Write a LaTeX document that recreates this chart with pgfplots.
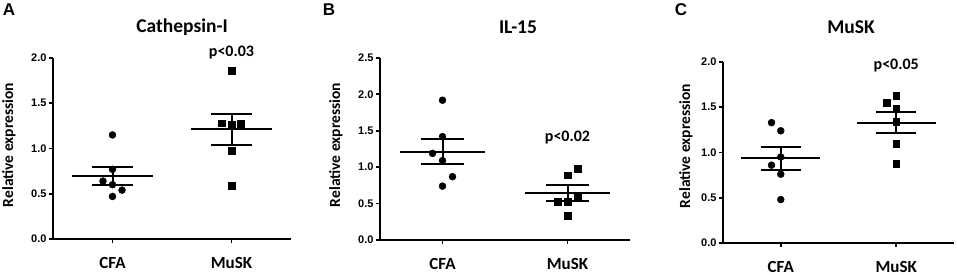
\documentclass[border=0pt]{standalone}
\usepackage{pgfplots}
\pgfplotsset{compat=1.18}
\usepackage{fontspec}
\setmainfont{Carlito}
\newfontfamily\tickfont{Liberation Sans}
\newfontfamily\letterfont{Liberation Sans}
\tikzset{pv/.style={font=\bfseries\fontsize{16}{16}\selectfont}}
\pgfplotsset{
  myax/.style={
    scale only axis,
    axis x line=bottom, axis y line=left,
    axis line style={-, line width=2pt},
    xmin=-0.5, xmax=1.5, ymin=0,
    xtick={0,1}, xticklabels={CFA,MuSK},
    tick align=outside, major tick length=4pt,
    tick style={line width=1.8pt, black},
    minor tick num=0,
    clip=false,
    /pgf/number format/assume math mode=true,
    yticklabel style={font=\tickfont\bfseries\fontsize{11}{11}\selectfont, xshift=1pt,
      /pgf/number format/.cd, fixed, fixed zerofill, precision=1, /tikz/.cd},
    xticklabel style={font=\bfseries\fontsize{17}{17}\selectfont, anchor=center, yshift=-20pt},
  },
  ln/.style={line width=2pt, black, no marks},
  circ/.style={only marks, mark=*, mark size=3.5pt, black},
  sq/.style={only marks, mark=square*, mark size=3.4pt, black},
}
\begin{document}
\begin{tikzpicture}
\useasboundingbox (0,0) rectangle (957pt,275pt);
% ---------------- A
\begin{axis}[myax, anchor=south west, at={(53pt,36pt)}, width=238pt, height=181pt,
  ymax=2.0, ytick={0,0.5,1.0,1.5,2.0}]
\addplot[circ] coordinates {(0,1.15) (0,0.77) (-0.08,0.64) (0,0.60) (0.08,0.54) (0,0.47)};
\addplot[ln] coordinates {(-0.34,0.70) (0.34,0.70)};
\addplot[ln] coordinates {(-0.175,0.80) (0.175,0.80)};
\addplot[ln] coordinates {(-0.175,0.60) (0.175,0.60)};
\addplot[ln] coordinates {(0,0.60) (0,0.80)};
\addplot[sq] coordinates {(1,1.86) (0.92,1.28) (1,1.26) (1.08,1.27) (1,0.98) (1,0.59)};
\addplot[ln] coordinates {(0.66,1.21) (1.34,1.21)};
\addplot[ln] coordinates {(0.825,1.38) (1.175,1.38)};
\addplot[ln] coordinates {(0.825,1.04) (1.175,1.04)};
\addplot[ln] coordinates {(1,1.04) (1,1.38)};
\node[pv] at (axis cs:1,2.06) {p<0.03};
\end{axis}
% ---------------- B
\begin{axis}[myax, anchor=south west, at={(380pt,35pt)}, width=250pt, height=182pt,
  ymax=2.5, ytick={0,0.5,1.0,1.5,2.0,2.5}]
\addplot[circ] coordinates {(0,1.92) (0,1.42) (-0.08,1.19) (0,1.09) (0.08,0.87) (0,0.74)};
\addplot[ln] coordinates {(-0.34,1.21) (0.34,1.21)};
\addplot[ln] coordinates {(-0.175,1.39) (0.175,1.39)};
\addplot[ln] coordinates {(-0.175,1.04) (0.175,1.04)};
\addplot[ln] coordinates {(0,1.04) (0,1.39)};
\addplot[sq] coordinates {(1.08,0.98) (1,0.89) (1.08,0.59) (0.92,0.53) (1,0.53) (1,0.33)};
\addplot[ln] coordinates {(0.66,0.64) (1.34,0.64)};
\addplot[ln] coordinates {(0.825,0.75) (1.175,0.75)};
\addplot[ln] coordinates {(0.825,0.54) (1.175,0.54)};
\addplot[ln] coordinates {(1,0.54) (1,0.75)};
\node[pv] at (axis cs:1,1.41) {p<0.02};
\end{axis}
% ---------------- C
\begin{axis}[myax, anchor=south west, at={(723pt,32pt)}, width=231pt, height=181pt,
  ymax=2.0, ytick={0,0.5,1.0,1.5,2.0}]
\addplot[circ] coordinates {(-0.08,1.33) (0,1.24) (0,0.95) (-0.08,0.86) (0,0.76) (0,0.48)};
\addplot[ln] coordinates {(-0.34,0.94) (0.34,0.94)};
\addplot[ln] coordinates {(-0.175,1.06) (0.175,1.06)};
\addplot[ln] coordinates {(-0.175,0.81) (0.175,0.81)};
\addplot[ln] coordinates {(0,0.81) (0,1.06)};
\addplot[sq] coordinates {(1,1.63) (0.92,1.55) (1,1.49) (1,1.34) (1,1.10) (1,0.88)};
\addplot[ln] coordinates {(0.66,1.33) (1.34,1.33)};
\addplot[ln] coordinates {(0.825,1.45) (1.175,1.45)};
\addplot[ln] coordinates {(0.825,1.21) (1.175,1.21)};
\addplot[ln] coordinates {(1,1.21) (1,1.45)};
\node[pv] at (axis cs:1,1.96) {p<0.05};
\end{axis}
% ---------------- texts
\foreach \lx/\lt in {9/A,329/B,681/C}{
  \node[font=\letterfont\bfseries\fontsize{17}{17}\selectfont] at (\lx pt,265pt) {\lt};
}
\node[font=\bfseries\fontsize{19.5}{19.5}\selectfont] at (182pt,248pt) {Cathepsin-I};
\node[font=\bfseries\fontsize{19.5}{19.5}\selectfont] at (518pt,248pt) {IL-15};
\node[font=\bfseries\fontsize{19.5}{19.5}\selectfont] at (851pt,248pt) {MuSK};
\foreach \yx/\yy in {9/130,336/130,686/129}{
  \node[rotate=90, font=\bfseries\fontsize{15.5}{15.5}\selectfont] at (\yx pt,\yy pt) {Relative expression};
}
\end{tikzpicture}
\end{document}
